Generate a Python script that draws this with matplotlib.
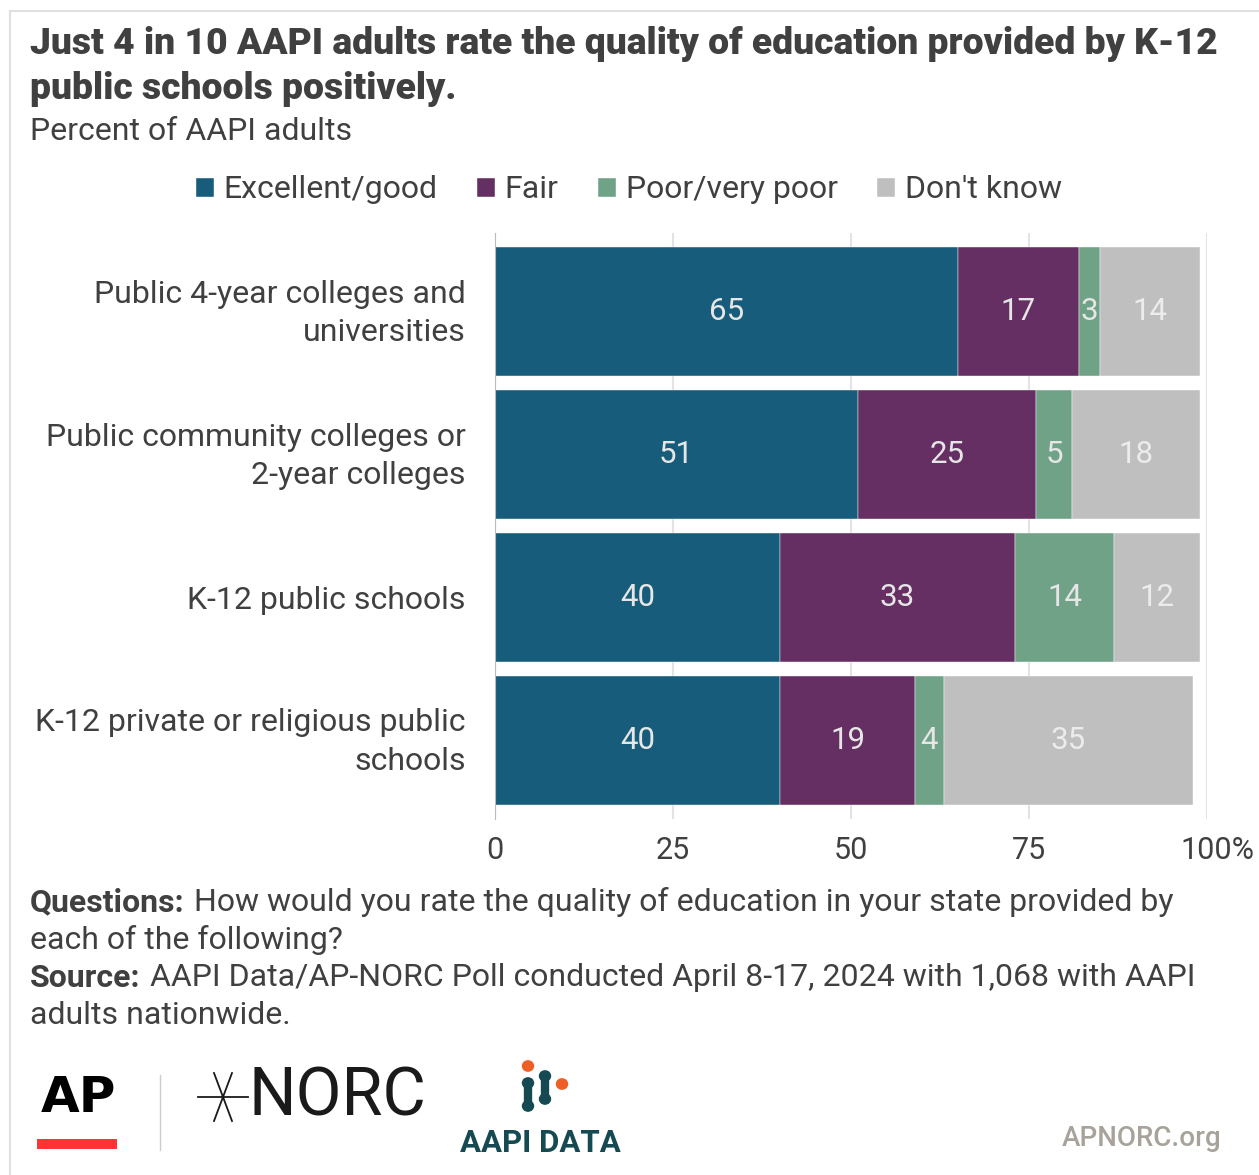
import matplotlib
matplotlib.use("Agg")
import matplotlib.pyplot as plt
import matplotlib.transforms as mtransforms
from matplotlib.patches import Rectangle, Circle
from matplotlib.lines import Line2D

plt.rcParams['font.family'] = ['Roboto', 'DejaVu Sans']

categories = ["Public 4-year colleges and\nuniversities",
              "Public community colleges or\n2-year colleges",
              "K-12 public schools",
              "K-12 private or religious public\nschools"]
series_names = ["Excellent/good", "Fair", "Poor/very poor", "Don't know"]
excellent = [65, 51, 40, 40]
fair = [17, 25, 33, 19]
poor = [3, 5, 14, 4]
dont_know = [14, 18, 12, 35]
xticks = [0, 25, 50, 75, 100]
xtick_labels = ["0", "25", "50", "75", "100%"]

colors = ["#175d7b", "#652f63", "#6fa287", "#bfbfbf"]
label_colors = ["#e6e6e6", "#e6e6e6", "#e6e6e6", "#ececec"]
txt = "#404040"

W, H = 1259, 1175
fig = plt.figure(figsize=(W / 100, H / 100), dpi=100)

def fx(px):
    return px / W

def fy(py):
    return 1 - py / H

ax = fig.add_axes([fx(495), fy(819), fx(712), 586 / H])

values = [excellent, fair, poor, dont_know]
ypos = list(range(len(categories)))
left = [0] * len(categories)
for name, vals, col, lc in zip(series_names, values, colors, label_colors):
    bars = ax.barh(ypos, vals, left=left, height=0.9, color=col, label=name,
                   edgecolor="white", linewidth=0.3, zorder=3)
    for b, v, l in zip(bars, vals, left):
        ax.text(l + v / 2, b.get_y() + b.get_height() / 2, str(v),
                ha="center", va="center", color=lc, fontsize=22.5, zorder=4)
    left = [l + v for l, v in zip(left, vals)]

ax.set_xlim(0, 100)
ax.set_ylim(3.55, -0.55)
ax.set_xticks(xticks)
ax.set_xticklabels(xtick_labels)
ax.set_yticks(ypos)
ax.set_yticklabels(categories, ha="right", linespacing=1.4)
ax.tick_params(axis="both", length=0, labelsize=22, labelcolor=txt)
ax.tick_params(axis="y", labelsize=23, pad=21)
ax.tick_params(axis="x", pad=12)
last = ax.get_xticklabels()[-1]
last.set_transform(last.get_transform() + mtransforms.ScaledTranslation(10 / 100, 0, fig.dpi_scale_trans))
for lab in ax.get_yticklabels():
    if "\n" in lab.get_text():
        lab.set_transform(lab.get_transform() + mtransforms.ScaledTranslation(0, 6 / 100, fig.dpi_scale_trans))
ax.grid(axis="x", color="#e3e3e3", linewidth=1.5, zorder=0)
for s in ["top", "right", "bottom"]:
    ax.spines[s].set_visible(False)
ax.spines["left"].set_color("#bbbbbb")
ax.spines["left"].set_zorder(5)

# title and subtitle
fig.text(fx(30), fy(44), "Just 4 in 10 AAPI adults rate the quality of education provided by K-12",
         fontsize=26.8, fontweight="heavy", color=txt, va="center")
fig.text(fx(30), fy(89), "public schools positively.",
         fontsize=26.8, fontweight="heavy", color=txt, va="center")
fig.text(fx(30), fy(131), "Percent of AAPI adults", fontsize=23, color=txt, va="center")

# legend
handles, labels = ax.get_legend_handles_labels()
leg = fig.legend(handles, labels, loc="center", bbox_to_anchor=(fx(629), fy(190)),
                 ncol=4, frameon=False, fontsize=23, handlelength=0.55, handleheight=0.55,
                 handletextpad=0.3, columnspacing=1.25, labelcolor=txt)

# footer notes
fig.canvas.draw()
r = fig.canvas.get_renderer()

def rich(y, bold, rest):
    t = fig.text(fx(30), fy(y), bold, fontsize=23, fontweight="bold", color=txt, va="center")
    bb = t.get_window_extent(renderer=r)
    fig.text(fx(bb.x1 + 9), fy(y), rest, fontsize=23, color=txt, va="center")

rich(902, "Questions:", "How would you rate the quality of education in your state provided by")
fig.text(fx(30), fy(940), "each of the following?", fontsize=23, color=txt, va="center")
rich(978, "Source:", "AAPI Data/AP-NORC Poll conducted April 8-17, 2024 with 1,068 with AAPI")
fig.text(fx(30), fy(1016), "adults nationwide.", fontsize=23, color=txt, va="center")

# frame lines
fig.add_artist(Line2D([fx(10), fx(10)], [fy(11), 0], color="#e0e0e0", lw=1.5))
fig.add_artist(Line2D([fx(10), 1], [fy(11), fy(11)], color="#e0e0e0", lw=1.5))

# logos
fig.text(fx(78), fy(1098), "AP", fontsize=36, fontweight="black", color="black",
         ha="center", va="center", family="DejaVu Sans")
fig.add_artist(Rectangle((fx(37), fy(1149)), fx(80), 10 / H, color="#ff3333", lw=0))
fig.add_artist(Line2D([fx(160), fx(160)], [fy(1075), fy(1150)], color="#cccccc", lw=1))
fig.text(fx(249), fy(1098), "NORC", fontsize=48, color="#1a1a1a", ha="left", va="center")
sx, sy = 223, 1097
for dx, dy in [(-25, 0), (25, 0), (-9, -24), (9, 24), (-9, 24), (9, -24)]:
    fig.add_artist(Line2D([fx(sx), fx(sx + dx)], [fy(sy), fy(sy + dy)], color="#1a1a1a", lw=1.3))
fig.text(fx(540), fy(1143), "AAPI DATA", fontsize=22.5, fontweight="bold", color="#154a52",
         ha="center", va="center")
for cx, cy, col in [(528, 1066, "#ef5e24"), (528, 1083, "#154a52"), (528, 1106, "#154a52"),
                    (545, 1076, "#154a52"), (545, 1099, "#154a52"), (562, 1084, "#ef5e24")]:
    fig.add_artist(Circle((fx(cx), fy(cy)), 5.5 / W, color=col, transform=fig.transFigure))
fig.add_artist(Line2D([fx(528), fx(528)], [fy(1083), fy(1106)], color="#154a52", lw=6))
fig.add_artist(Line2D([fx(545), fx(545)], [fy(1076), fy(1099)], color="#154a52", lw=6))
fig.text(fx(1222), fy(1138), "APNORC.org", fontsize=20, fontweight="medium", color="#a8a39a",
         ha="right", va="center")

fig.savefig("out.png", dpi=100)
